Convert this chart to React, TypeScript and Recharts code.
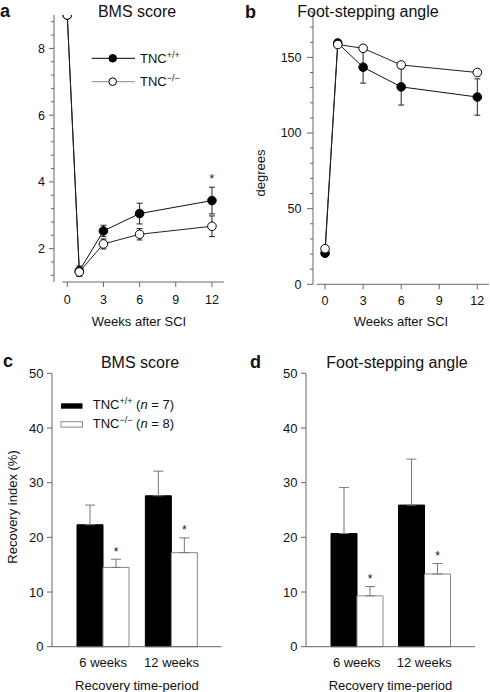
import React from "react";
import { Bar, BarChart, ErrorBar, LabelList, Legend, Line, LineChart, ReferenceLine, XAxis, YAxis } from "recharts";

const INK = "#111";
const AXIS = "#666";
const FONT = "'Liberation Sans', Arial, Helvetica, sans-serif";

// time course (weeks after SCI)
const WEEKS = [0, 1, 3, 6, 12];
const WEEK_TICKS = [0, 3, 6, 9, 12];

const BMS_WT = [9, 1.33, 2.53, 3.05, 3.44];
const BMS_WT_SEM = [0, 0.15, 0.17, 0.31, 0.4];
const BMS_KO = [9, 1.3, 2.14, 2.43, 2.67];
const BMS_KO_SEM = [0, 0.12, 0.15, 0.17, 0.31];
const BMS_SIG = [false, false, false, false, true];
const BMS_TICKS = [1.2, 1.6, 2, 2.4, 2.8, 3.2, 3.6, 4, 4.4, 4.8, 5.2, 5.6, 6, 6.4, 6.8, 7.2, 7.6, 8, 8.4, 8.8];
const BMS_LABELLED = [2, 4, 6, 8];

const FSA_WT = [20.5, 159.5, 143.5, 130.5, 123.8];
const FSA_WT_SEM = [0, 2, 10.5, 12, 12];
const FSA_KO = [23.5, 158.5, 156, 145, 140];
const FSA_KO_SEM = [0, 2, 2, 2, 2];
const FSA_TICKS = [0, 10, 20, 30, 40, 50, 60, 70, 80, 90, 100, 110, 120, 130, 140, 150, 160, 170, 180];
const FSA_LABELLED = [0, 50, 100, 150];

// recovery index (%)
const PERIODS = ["6 weeks", "12 weeks"];
const RI_BMS_WT = [22.3, 27.6];
const RI_BMS_WT_SEM = [3.6, 4.5];
const RI_BMS_KO = [14.5, 17.2];
const RI_BMS_KO_SEM = [1.5, 2.7];
const RI_FSA_WT = [20.7, 25.9];
const RI_FSA_WT_SEM = [8.4, 8.4];
const RI_FSA_KO = [9.3, 13.3];
const RI_FSA_KO_SEM = [1.7, 1.9];
const RI_SIG = [true, true];
const RI_TICKS = [0, 10, 20, 30, 40, 50];

const weekRows = (wt: number[], wtSem: number[], ko: number[], koSem: number[], sig: boolean[]) =>
  WEEKS.map((w, i) => ({
    week: w,
    wt: wt[i],
    wtErr: wtSem[i],
    ko: ko[i],
    koErr: koSem[i],
    star: sig[i] ? wt[i] + wtSem[i] : null,
  }));

const periodRows = (wt: number[], wtSem: number[], ko: number[], koSem: number[]) =>
  PERIODS.map((p, i) => ({ period: p, wt: wt[i], wtErr: [0, wtSem[i]], ko: ko[i], koErr: [0, koSem[i]] }));

const bmsRows = weekRows(BMS_WT, BMS_WT_SEM, BMS_KO, BMS_KO_SEM, BMS_SIG);
const fsaRows = weekRows(FSA_WT, FSA_WT_SEM, FSA_KO, FSA_KO_SEM, [false, false, false, false, false]);
const riBmsRows = periodRows(RI_BMS_WT, RI_BMS_WT_SEM, RI_BMS_KO, RI_BMS_KO_SEM);
const riFsaRows = periodRows(RI_FSA_WT, RI_FSA_WT_SEM, RI_FSA_KO, RI_FSA_KO_SEM);

// y ticks drawn by hand so minor ticks can be shorter and unlabelled
function makeYTick(labelled: number[] | null, major: number, minor: number, gap: number, fontSize: number) {
  return (props: any) => {
    const { x, y, payload } = props;
    const isMajor = !labelled || labelled.includes(payload.value);
    const len = isMajor ? major : minor;
    return (
      <g>
        <line x1={x - len} x2={x} y1={y} y2={y} stroke={AXIS} />
        {isMajor && (
          <text x={x - major - gap} y={y} dy="0.35em" textAnchor="end" fontSize={fontSize} fill={INK}>
            {payload.value}
          </text>
        )}
      </g>
    );
  };
}

const bmsTick = makeYTick(BMS_LABELLED, 5, 3, 4, 12.5);
const fsaTick = makeYTick(FSA_LABELLED, 6, 3, 5.5, 12.5);
const riTick = makeYTick(null, 5, 5, 3.5, 13);

const filledDot = (props: any) => {
  const { cx, cy, index } = props;
  if (cy == null) return <g key={index} />;
  return <circle key={index} cx={cx} cy={cy} r={4.3} fill="#000" stroke="#000" />;
};
const openDot = (props: any) => {
  const { cx, cy, index } = props;
  if (cy == null) return <g key={index} />;
  return <circle key={index} cx={cx} cy={cy} r={4.3} fill="#fff" stroke="#000" />;
};

const lineStar = (props: any) => {
  const { x, y, value } = props;
  if (value == null || y == null) return null;
  return (
    <text x={x} y={y - 4} textAnchor="middle" fontSize={12} fill={INK}>
      *
    </text>
  );
};

const makeBarStar = (sem: number[]) => (props: any) => {
  const { x, y, width, height, value, index } = props;
  if (!RI_SIG[index] || !value) return null;
  const errTop = y - (sem[index] * height) / value;
  return (
    <text x={x + width / 2} y={errTop - 3.5} textAnchor="middle" fontSize={12} fill={INK}>
      *
    </text>
  );
};

function Genotype({ x, y, sup, n }: { x: number; y: number; sup: string; n?: number }) {
  return (
    <text x={x} y={y} fontSize={13} fill={INK}>
      TNC
      <tspan dy={-5} fontSize={9}>
        {sup}
      </tspan>
      {n != null && (
        <tspan dy={5}>
          {" ("}
          <tspan fontStyle="italic">n</tspan>
          {` = ${n})`}
        </tspan>
      )}
    </text>
  );
}

const lineLegend = () => (
  <svg width={110} height={50} style={{ display: "block", overflow: "visible" }}>
    <line x1={6.7} x2={50} y1={13.3} y2={13.3} stroke="#000" />
    <circle cx={27.7} cy={13.3} r={3.8} fill="#000" stroke="#000" />
    <Genotype x={55} y={17.8} sup="+/+" />
    <line x1={6.7} x2={50} y1={36.7} y2={36.7} stroke="#888" />
    <circle cx={27.7} cy={36.7} r={3.8} fill="#fff" stroke="#000" />
    <Genotype x={55} y={41.2} sup={"\u2212/\u2212"} />
  </svg>
);

const barLegend = () => (
  <svg width={140} height={44} style={{ display: "block", overflow: "visible" }}>
    <rect x={6} y={11.3} width={21.5} height={5.4} fill="#000" />
    <Genotype x={37.7} y={17} sup="+/+" n={7} />
    <rect x={6} y={29.7} width={21.5} height={5.4} fill="#fff" stroke="#888" />
    <Genotype x={37.7} y={36.3} sup={"\u2212/\u2212"} n={8} />
  </svg>
);

function App() {
  return (
    <div style={{ position: "absolute", left: 0, top: 0, width: 490, height: 692, background: "#fff", fontFamily: FONT }}>
      <div style={{ position: "absolute", left: 0, top: 0 }}>
        <LineChart width={245} height={340} data={bmsRows} margin={{ top: 15, right: 21, bottom: 12, left: 0 }}>
          <XAxis
            type="number"
            dataKey="week"
            domain={[-1.1, 13]}
            ticks={WEEK_TICKS}
            interval={0}
            allowDataOverflow
            axisLine={false}
            tickLine={{ stroke: AXIS }}
            tickSize={5}
            tickMargin={8}
            tick={{ fontSize: 12.5, fill: INK }}
            height={46}
            label={{ value: "Weeks after SCI", position: "insideBottom", offset: 2.5, fontSize: 13, fill: INK }}
          />
          <YAxis
            type="number"
            domain={[1, 9]}
            ticks={BMS_TICKS}
            interval={0}
            allowDataOverflow
            width={54}
            axisLine={{ stroke: AXIS }}
            tickLine={false}
            tickSize={0}
            tickMargin={0}
            tick={bmsTick}
          />
          <ReferenceLine segment={[{ x: -0.4, y: 1 }, { x: 13, y: 1 }]} stroke={AXIS} ifOverflow="visible" />
          <Line dataKey="wt" type="linear" stroke="#111" strokeWidth={1} dot={filledDot} activeDot={false} isAnimationActive={false}>
            <ErrorBar dataKey="wtErr" width={3} stroke="#222" strokeWidth={1} direction="y" />
          </Line>
          <Line dataKey="ko" type="linear" stroke="#222" strokeWidth={1} dot={openDot} activeDot={false} isAnimationActive={false}>
            <ErrorBar dataKey="koErr" width={3} stroke="#222" strokeWidth={1} direction="y" />
          </Line>
          <Line dataKey="star" stroke="none" dot={false} activeDot={false} legendType="none" isAnimationActive={false}>
            <LabelList dataKey="star" content={lineStar} />
          </Line>
          <Legend
            layout="horizontal"
            verticalAlign="middle"
            align="center"
            content={lineLegend}
            wrapperStyle={{ left: 85, top: 45, width: 110, height: 50 }}
          />
        </LineChart>
      </div>

      <div style={{ position: "absolute", left: 245, top: 0 }}>
        <LineChart width={245} height={340} data={fsaRows} margin={{ top: 12, right: 1, bottom: 9.7, left: 0 }}>
          <XAxis
            type="number"
            dataKey="week"
            domain={[-0.95, 12.92]}
            ticks={WEEK_TICKS}
            interval={0}
            allowDataOverflow
            axisLine={false}
            tickLine={{ stroke: AXIS }}
            tickSize={5}
            tickMargin={7}
            tick={{ fontSize: 12.5, fill: INK }}
            height={46}
            label={{ value: "Weeks after SCI", position: "insideBottom", offset: 4.8, fontSize: 13, fill: INK }}
          />
          <YAxis
            type="number"
            domain={[0, 180]}
            ticks={FSA_TICKS}
            interval={0}
            allowDataOverflow
            width={68}
            axisLine={{ stroke: AXIS }}
            tickLine={false}
            tickSize={0}
            tickMargin={0}
            tick={fsaTick}
          />
          <ReferenceLine segment={[{ x: -0.65, y: 0 }, { x: 12.92, y: 0 }]} stroke={AXIS} ifOverflow="visible" />
          <Line dataKey="wt" type="linear" stroke="#111" strokeWidth={1} dot={filledDot} activeDot={false} isAnimationActive={false}>
            <ErrorBar dataKey="wtErr" width={3} stroke="#222" strokeWidth={1} direction="y" />
          </Line>
          <Line dataKey="ko" type="linear" stroke="#222" strokeWidth={1} dot={openDot} activeDot={false} isAnimationActive={false}>
            <ErrorBar dataKey="koErr" width={3} stroke="#222" strokeWidth={1} direction="y" />
          </Line>
        </LineChart>
      </div>

      <div style={{ position: "absolute", left: 0, top: 340 }}>
        <BarChart width={245} height={352} data={riBmsRows} margin={{ top: 33.3, right: 23.3, bottom: 1.3, left: 0 }} barGap={0} barSize={26}>
          <XAxis
            dataKey="period"
            padding={{ left: 17, right: 16 }}
            axisLine={{ stroke: AXIS }}
            tickLine={false}
            tickSize={0}
            tickMargin={11}
            tick={{ fontSize: 13, fill: INK }}
            height={44}
            label={{ value: "Recovery time-period", position: "insideBottom", offset: 1.2, fontSize: 13, fill: INK }}
          />
          <YAxis
            type="number"
            domain={[0, 50]}
            ticks={RI_TICKS}
            interval={0}
            width={52}
            axisLine={{ stroke: AXIS }}
            tickLine={false}
            tickSize={0}
            tickMargin={0}
            tick={riTick}
          />
          <Bar dataKey="wt" fill="#000" stroke="#000" isAnimationActive={false}>
            <ErrorBar dataKey="wtErr" width={5} stroke="#777" strokeWidth={1} direction="y" />
          </Bar>
          <Bar dataKey="ko" fill="#fff" stroke="#888" isAnimationActive={false}>
            <ErrorBar dataKey="koErr" width={5} stroke="#777" strokeWidth={1} direction="y" />
            <LabelList dataKey="ko" content={makeBarStar(RI_BMS_KO_SEM)} />
          </Bar>
          <Legend
            layout="horizontal"
            verticalAlign="middle"
            align="center"
            content={barLegend}
            wrapperStyle={{ left: 55, top: 52, width: 140, height: 44 }}
          />
        </BarChart>
      </div>

      <div style={{ position: "absolute", left: 245, top: 340 }}>
        <BarChart width={245} height={352} data={riFsaRows} margin={{ top: 33.3, right: 15, bottom: 1.3, left: 0 }} barGap={0} barSize={26}>
          <XAxis
            dataKey="period"
            padding={{ left: 17, right: 17 }}
            axisLine={{ stroke: AXIS }}
            tickLine={false}
            tickSize={0}
            tickMargin={11}
            tick={{ fontSize: 13, fill: INK }}
            height={44}
            label={{ value: "Recovery time-period", position: "insideBottom", offset: 1.2, fontSize: 13, fill: INK }}
          />
          <YAxis
            type="number"
            domain={[0, 50]}
            ticks={RI_TICKS}
            interval={0}
            width={61}
            axisLine={{ stroke: AXIS }}
            tickLine={false}
            tickSize={0}
            tickMargin={0}
            tick={riTick}
          />
          <Bar dataKey="wt" fill="#000" stroke="#000" isAnimationActive={false}>
            <ErrorBar dataKey="wtErr" width={5} stroke="#777" strokeWidth={1} direction="y" />
          </Bar>
          <Bar dataKey="ko" fill="#fff" stroke="#888" isAnimationActive={false}>
            <ErrorBar dataKey="koErr" width={5} stroke="#777" strokeWidth={1} direction="y" />
            <LabelList dataKey="ko" content={makeBarStar(RI_FSA_KO_SEM)} />
          </Bar>
        </BarChart>
      </div>

      {/* panel letters, titles, rotated axis titles */}
      <svg width={490} height={692} style={{ position: "absolute", left: 0, top: 0, pointerEvents: "none" }}>
        <g fill={INK}>
          <text x={0} y={17} fontSize={18} fontWeight="bold">a</text>
          <text x={137} y={17} fontSize={16} textAnchor="middle">BMS score</text>
          <text x={245} y={18} fontSize={18} fontWeight="bold">b</text>
          <text x={368} y={17} fontSize={16} textAnchor="middle">Foot-stepping angle</text>
          <text x={260} y={173} fontSize={13} textAnchor="middle" dy="0.35em" transform="rotate(-90 260 173)">degrees</text>
          <text x={3} y={367} fontSize={18} fontWeight="bold">c</text>
          <text x={140} y={368} fontSize={16} textAnchor="middle">BMS score</text>
          <text x={250} y={368} fontSize={18} fontWeight="bold">d</text>
          <text x={397} y={368} fontSize={16} textAnchor="middle">Foot-stepping angle</text>
          <text x={12} y={507} fontSize={13} textAnchor="middle" dy="0.35em" transform="rotate(-90 12 507)">Recovery index (%)</text>
        </g>
      </svg>
    </div>
  );
}

export default App;
